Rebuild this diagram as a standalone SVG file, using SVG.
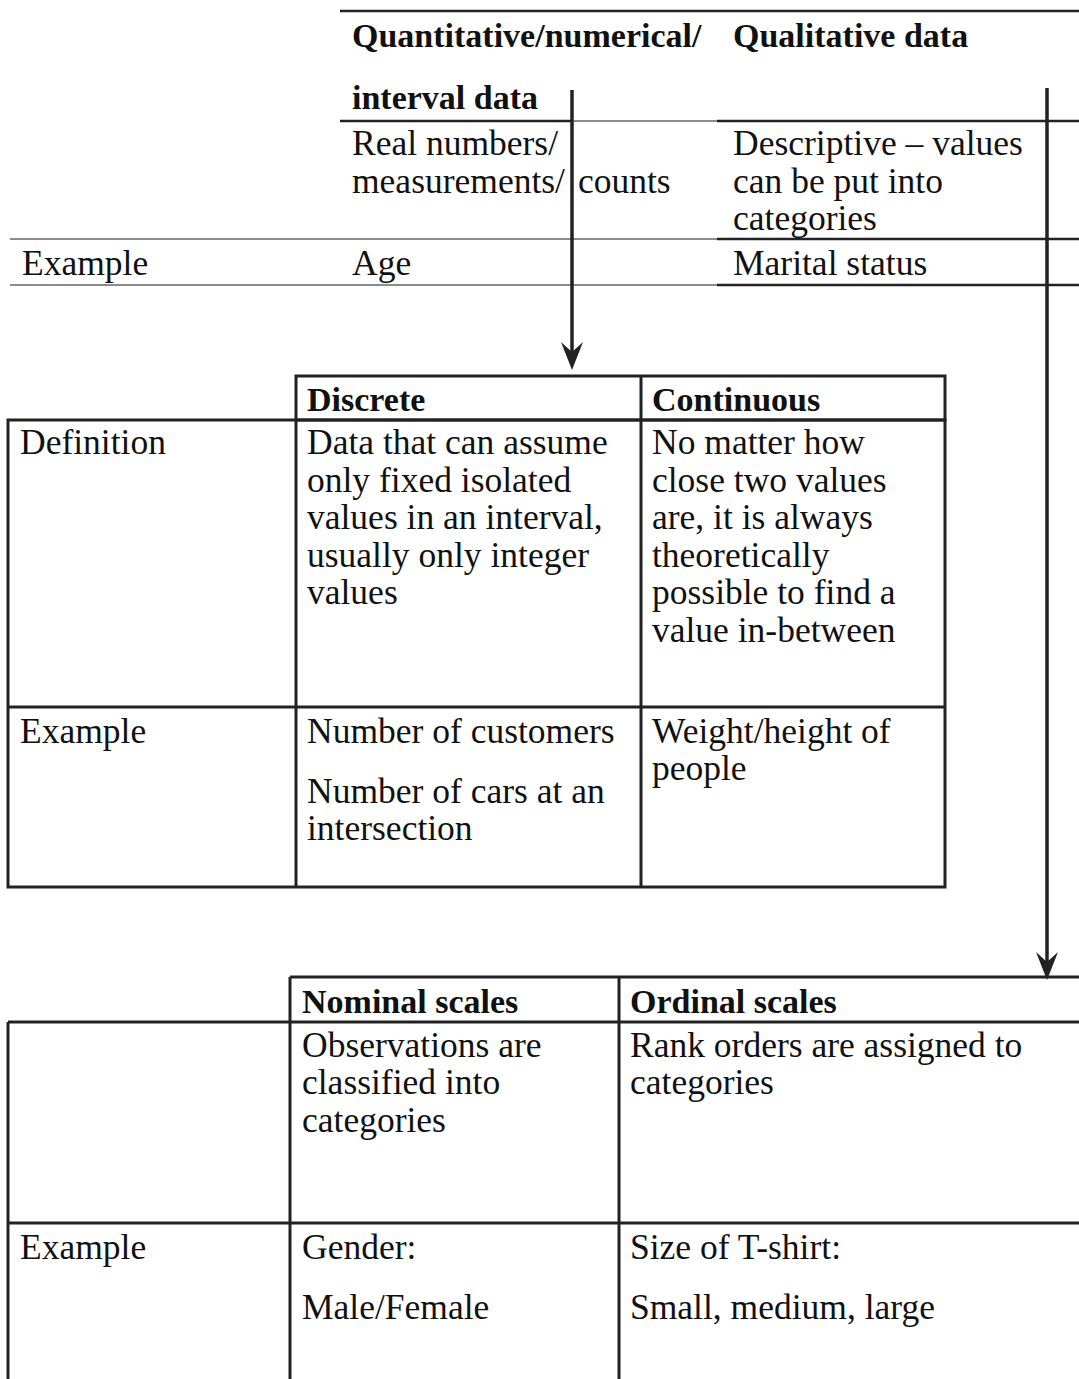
<svg xmlns="http://www.w3.org/2000/svg" width="1079" height="1379" viewBox="0 0 1079 1379">
<style>
text{font-family:"Liberation Serif","Times New Roman",serif;font-size:35.5px;fill:#111}
.b{font-weight:bold;font-size:34px}
.thick{stroke:#222;stroke-width:2.5;fill:none}
.thin{stroke:#666;stroke-width:1.5;fill:none}
.cell{stroke:#222;stroke-width:3;fill:none}
.arrow{stroke:#222;stroke-width:3.5;fill:none;marker-end:url(#ah)}
</style>
<defs>
<marker id="ah" markerUnits="userSpaceOnUse" viewBox="-14 -12 30 24" markerWidth="30" markerHeight="24" refX="0" refY="0" orient="auto">
<path d="M15,0 L-13,-11 L-3,0 L-13,11 Z" fill="#222"/>
</marker>
</defs>
<rect width="1079" height="1379" fill="#fff"/>

<g id="table-data-types">
<line class="thick" x1="340" y1="11" x2="1079" y2="11"/>
<line class="thick" x1="340" y1="121" x2="572" y2="121"/>
<line class="thin" x1="572" y1="121" x2="717" y2="121"/>
<line class="thick" x1="717" y1="121" x2="1079" y2="121"/>
<line class="thin" x1="10" y1="239" x2="717" y2="239"/>
<line class="thick" x1="717" y1="239" x2="1079" y2="239"/>
<line class="thin" x1="10" y1="285" x2="717" y2="285"/>
<line class="thick" x1="717" y1="285" x2="1079" y2="285"/>
<text class="b" x="352" y="47">Quantitative/numerical/</text>
<text class="b" x="352" y="109">interval data</text>
<text class="b" x="733" y="47">Qualitative data</text>
<text x="352" y="155">Real numbers/</text>
<text x="352" y="192.5">measurements/<tspan x="578">counts</tspan></text>
<text x="733" y="155">Descriptive – values</text>
<text x="733" y="192.5">can be put into</text>
<text x="733" y="230">categories</text>
<text x="22" y="275">Example</text>
<text x="352" y="275">Age</text>
<text x="733" y="275">Marital status</text>
</g>

<g id="table-quantitative">
<rect class="cell" x="296" y="376" width="649" height="44"/>
<rect class="cell" x="8" y="420" width="937" height="467"/>
<line class="cell" x1="296" y1="420" x2="296" y2="887"/>
<line class="cell" x1="641" y1="376" x2="641" y2="887"/>
<line class="cell" x1="8" y1="707" x2="945" y2="707"/>
<text class="b" x="307" y="411">Discrete</text>
<text class="b" x="652" y="411">Continuous</text>
<text x="20" y="454">Definition</text>
<text x="307" y="454">Data that can assume</text>
<text x="307" y="492">only fixed isolated</text>
<text x="307" y="529">values in an interval,</text>
<text x="307" y="567">usually only integer</text>
<text x="307" y="604">values</text>
<text x="652" y="454">No matter how</text>
<text x="652" y="492">close two values</text>
<text x="652" y="529">are, it is always</text>
<text x="652" y="567">theoretically</text>
<text x="652" y="604">possible to find a</text>
<text x="652" y="642">value in-between</text>
<text x="20" y="743">Example</text>
<text x="307" y="743">Number of customers</text>
<text x="307" y="803">Number of cars at an</text>
<text x="307" y="840">intersection</text>
<text x="652" y="743">Weight/height of</text>
<text x="652" y="780">people</text>
</g>

<g id="table-qualitative">
<line class="cell" x1="290" y1="977" x2="1079" y2="977"/>
<line class="cell" x1="8" y1="1022" x2="1079" y2="1022"/>
<line class="cell" x1="8" y1="1223" x2="1079" y2="1223"/>
<line class="cell" x1="8" y1="1022" x2="8" y2="1379"/>
<line class="cell" x1="290" y1="977" x2="290" y2="1379"/>
<line class="cell" x1="619" y1="977" x2="619" y2="1379"/>
<text class="b" x="302" y="1013">Nominal scales</text>
<text class="b" x="630" y="1013">Ordinal scales</text>
<text x="302" y="1057">Observations are</text>
<text x="302" y="1094">classified into</text>
<text x="302" y="1132">categories</text>
<text x="630" y="1057">Rank orders are assigned to</text>
<text x="630" y="1094">categories</text>
<text x="20" y="1259">Example</text>
<text x="302" y="1259">Gender:</text>
<text x="302" y="1319">Male/Female</text>
<text x="630" y="1259">Size of T-shirt:</text>
<text x="630" y="1319">Small, medium, large</text>
</g>

<g id="connectors">
<line class="arrow" x1="572" y1="90" x2="572" y2="355"/>
<line class="arrow" x1="1047" y1="88" x2="1047" y2="965"/>
</g>
</svg>
